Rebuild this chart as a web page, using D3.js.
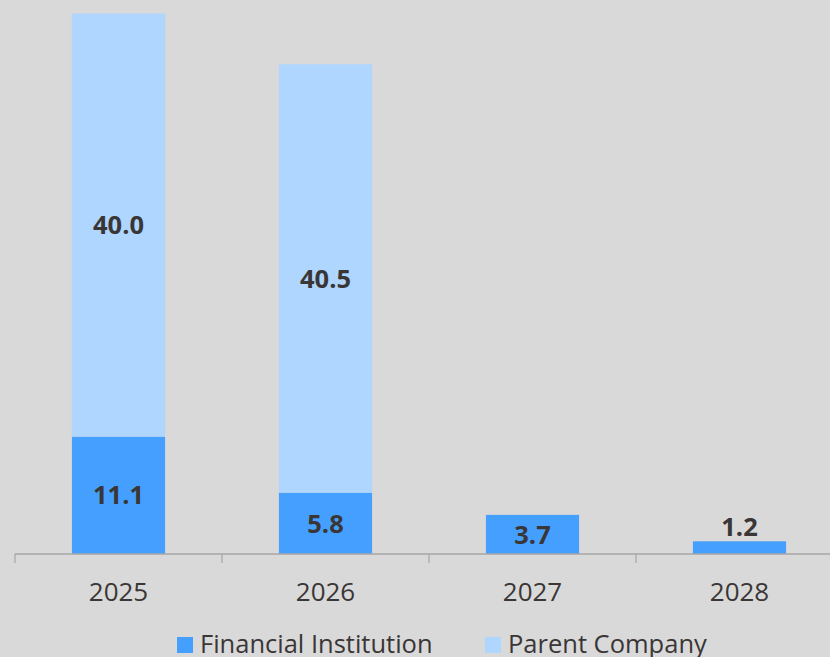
<!DOCTYPE html>
<html>
<head>
<meta charset="utf-8">
<script src="https://cdn.jsdelivr.net/npm/d3@7"></script>
<style>
  body { margin: 0; background: #d9d9d9; }
  svg { display: block; font-family: "Open Sans", sans-serif; }
</style>
</head>
<body>
<svg id="chart" width="830" height="657"></svg>
<script>
var years = ["2025", "2026", "2027", "2028"];
var financial = [11.1, 5.8, 3.7, 1.2];
var parent = [40.0, 40.5, 0, 0];
var seriesNames = ["Financial Institution", "Parent Company"];
var colors = ["#459ffe", "#aed6fe"];
var textColor = "#3a3636";

var svg = d3.select("#chart");
svg.append("rect").attr("width", 830).attr("height", 657).attr("fill", "#d9d9d9");

var x = d3.scaleBand().domain(years).range([15, 843]).paddingInner(0.55).paddingOuter(0.275);
var y = d3.scaleLinear().domain([0, 52]).range([554, 4]);

var rows = years.map(function(yr, i) {
  return { year: yr, fin: financial[i], par: parent[i] };
});
var stack = d3.stack().keys(["fin", "par"])(rows);

stack.forEach(function(layer, k) {
  var g = svg.append("g");
  g.selectAll("rect").data(layer).enter().append("rect")
    .attr("x", function(d) { return x(d.data.year); })
    .attr("y", function(d) { return y(d[1]); })
    .attr("width", x.bandwidth())
    .attr("height", function(d) { return y(d[0]) - y(d[1]); })
    .attr("fill", colors[k]);

  g.selectAll("text").data(layer.filter(function(d) { return d[1] - d[0] > 0; })).enter().append("text")
    .attr("x", function(d) { return x(d.data.year) + x.bandwidth() / 2; })
    .attr("y", function(d) {
      var h = y(d[0]) - y(d[1]);
      if (h < 30) return y(d[1]) - 5;
      return (y(d[0]) + y(d[1])) / 2;
    })
    .attr("dy", function(d) { return (y(d[0]) - y(d[1]) < 30) ? "0" : "0.36em"; })
    .attr("text-anchor", "middle")
    .attr("font-size", 25.5)
    .attr("font-weight", "bold")
    .attr("fill", textColor)
    .text(function(d) { return (d[1] - d[0]).toFixed(1); });
});

// axis
var step = x.step();
var tickPos = d3.range(years.length + 1).map(function(i) { return 15 + i * step; });
var axis = svg.append("g");
axis.append("line")
  .attr("x1", 15).attr("x2", 843).attr("y1", 554).attr("y2", 554)
  .attr("stroke", "#a6a6a6").attr("stroke-width", 1.5);
axis.selectAll("line.tick").data(tickPos).enter().append("line")
  .attr("class", "tick")
  .attr("x1", function(d) { return d; }).attr("x2", function(d) { return d; })
  .attr("y1", 554).attr("y2", 563)
  .attr("stroke", "#a6a6a6").attr("stroke-width", 1.2);
axis.selectAll("text").data(years).enter().append("text")
  .attr("x", function(d) { return x(d) + x.bandwidth() / 2; })
  .attr("y", 601)
  .attr("text-anchor", "middle")
  .attr("font-size", 26)
  .attr("fill", textColor)
  .text(function(d) { return d; });

// legend
var legendX = [177, 485];
var legend = svg.append("g");
seriesNames.forEach(function(name, i) {
  legend.append("rect")
    .attr("x", legendX[i]).attr("y", 637)
    .attr("width", 16).attr("height", 16)
    .attr("fill", colors[i]);
  legend.append("text")
    .attr("x", legendX[i] + 23).attr("y", 653)
    .attr("font-size", 25.5)
    .attr("fill", textColor)
    .text(name);
});
</script>
</body>
</html>
